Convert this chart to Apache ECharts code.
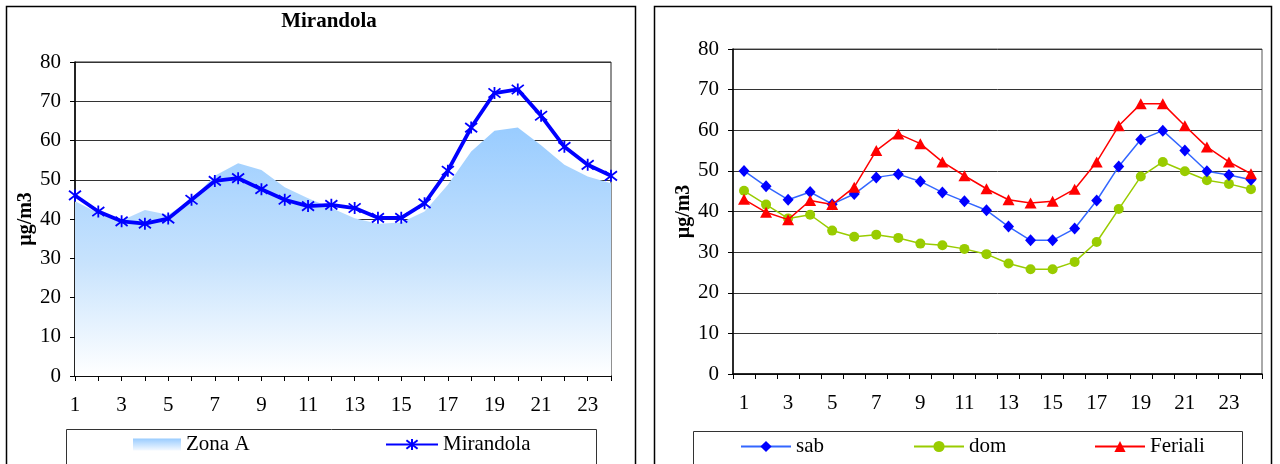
<!DOCTYPE html>
<html>
<head>
<meta charset="utf-8">
<script src="https://cdn.jsdelivr.net/npm/echarts@6/dist/echarts.min.js"></script>
<style>
html,body{margin:0;padding:0;background:#fff;}
#main{width:1280px;height:464px;}
</style>
</head>
<body>
<div id="main"></div>
<script>
const hours = ['1','2','3','4','5','6','7','8','9','10','11','12','13','14','15','16','17','18','19','20','21','22','23','24'];
const zonaA = [44.5, 41.5, 39.6, 42.3, 41.1, 45.0, 51.0, 54.2, 52.5, 48.1, 45.3, 42.8, 40.2, 38.8, 39.1, 41.9, 48.7, 57.2, 62.5, 63.3, 58.8, 53.8, 50.8, 49.1];
const mirandola = [46.0, 41.9, 39.4, 38.8, 40.1, 44.9, 49.7, 50.4, 47.6, 44.9, 43.3, 43.6, 42.8, 40.3, 40.3, 44.0, 52.3, 63.3, 72.1, 73.0, 66.3, 58.4, 53.8, 51.0];
const sab = [50.0, 46.2, 42.9, 44.8, 41.8, 44.3, 48.4, 49.2, 47.4, 44.7, 42.5, 40.3, 36.3, 32.9, 32.9, 35.8, 42.7, 51.1, 57.7, 59.9, 55.0, 49.9, 49.0, 47.8];
const dom = [45.1, 41.7, 38.3, 39.2, 35.3, 33.8, 34.3, 33.5, 32.1, 31.7, 30.8, 29.5, 27.2, 25.8, 25.8, 27.6, 32.5, 40.6, 48.6, 52.2, 49.9, 47.7, 46.8, 45.5];
const feriali = [43.0, 39.8, 38.0, 42.7, 41.7, 46.0, 55.0, 59.1, 56.7, 52.2, 48.8, 45.6, 42.9, 42.1, 42.5, 45.5, 52.2, 61.1, 66.5, 66.5, 61.1, 55.9, 52.2, 49.3];

const FONT = '"Liberation Serif", "Times New Roman", serif';
const chart = echarts.init(document.getElementById('main'), null, {renderer:'canvas'});

const areaGrad = new echarts.graphic.LinearGradient(0, 0, 0, 1, [
  {offset: 0, color: '#99CCFF'},
  {offset: 0.55, color: '#C8E3FD'},
  {offset: 1, color: '#FFFFFF'}
]);
const legendGrad = new echarts.graphic.LinearGradient(0, 0, 0, 1, [
  {offset: 0, color: '#99CCFF'},
  {offset: 1, color: '#F4F9FF'}
]);
const starPath = 'path://M0,0L20,20M20,0L0,20M10,-3L10,23';

function yAxis(gridIndex, nameGap) {
  return {
    type: 'value', gridIndex: gridIndex, min: 0, max: 80, interval: 10,
    name: 'µg/m3', nameLocation: 'middle', nameGap: nameGap, nameRotate: 90,
    nameTextStyle: {fontFamily: FONT, fontSize: 20, fontWeight: 'bold', color: '#000'},
    axisLine: {show: true, lineStyle: {color: '#000', width: 1.5}},
    axisTick: {show: true, length: 5, lineStyle: {color: '#000', width: 1}},
    axisLabel: {fontFamily: FONT, fontSize: 21, color: '#000', margin: 14},
    splitLine: {show: true, lineStyle: {color: '#333', width: 1}}
  };
}
function xAxis(gridIndex, boundaryGap) {
  return {
    type: 'category', gridIndex: gridIndex, data: hours, boundaryGap: boundaryGap,
    axisLine: {show: true, lineStyle: {color: '#000', width: 1.5}},
    axisTick: {show: true, interval: 0, length: 5, lineStyle: {color: '#000', width: 1}},
    axisLabel: {interval: 1, fontFamily: FONT, fontSize: 21, color: '#000', margin: 19},
    splitLine: {show: false}
  };
}

const legendText = {fontFamily: FONT, fontSize: 21, color: '#000'};

const option = {
  animation: false,
  backgroundColor: '#fff',
  grid: [
    {left: 75, top: 62, width: 536, height: 314, show: true, borderColor: '#222', borderWidth: 1, backgroundColor: 'transparent'},
    {left: 733, top: 49, width: 529, height: 325, show: true, borderColor: '#555', borderWidth: 1, backgroundColor: 'transparent'}
  ],
  xAxis: [xAxis(0, false), xAxis(1, true)],
  yAxis: [yAxis(0, 36), yAxis(1, 38)],
  legend: [
    {data: [{name: 'Zona A', icon: 'rect', itemStyle: {color: legendGrad}}], left: 133, top: 434, padding: 0,
     itemWidth: 48, itemHeight: 12, textStyle: legendText, selectedMode: false},
    {data: ['Mirandola'], left: 385, top: 434, padding: 0, itemWidth: 52, itemHeight: 14, textStyle: legendText, selectedMode: false},
    {data: ['sab'], left: 740, top: 436, padding: 0, itemWidth: 50, itemHeight: 14, textStyle: legendText, selectedMode: false},
    {data: ['dom'], left: 913, top: 436, padding: 0, itemWidth: 50, itemHeight: 14, textStyle: legendText, selectedMode: false},
    {data: ['Feriali'], left: 1094, top: 436, padding: 0, itemWidth: 50, itemHeight: 14, textStyle: legendText, selectedMode: false}
  ],
  graphic: [
    {type: 'rect', shape: {x: 6.5, y: 6.5, width: 629, height: 480}, style: {fill: 'none', stroke: '#000', lineWidth: 1.5}, silent: true},
    {type: 'rect', shape: {x: 654.5, y: 6.5, width: 617, height: 480}, style: {fill: 'none', stroke: '#000', lineWidth: 1.5}, silent: true},
    {type: 'rect', shape: {x: 66.5, y: 429.5, width: 530, height: 60}, style: {fill: 'none', stroke: '#333', lineWidth: 1}, silent: true},
    {type: 'rect', shape: {x: 693.5, y: 431.5, width: 549, height: 60}, style: {fill: 'none', stroke: '#333', lineWidth: 1}, silent: true},
    {type: 'text', x: 329, y: 11, style: {text: 'Mirandola', textAlign: 'center', textVerticalAlign: 'top', font: 'bold 21px "Liberation Serif"', fill: '#000'}, silent: true}
  ],
  series: [
    {name: 'Zona A', type: 'line', xAxisIndex: 0, yAxisIndex: 0, data: zonaA, symbol: 'none',
     lineStyle: {width: 0, color: '#99CCFF'}, itemStyle: {color: '#99CCFF'}, areaStyle: {color: areaGrad, opacity: 1}, z: 1},
    {name: 'Mirandola', type: 'line', xAxisIndex: 0, yAxisIndex: 0, data: mirandola,
     symbol: starPath, symbolSize: 12,
     lineStyle: {width: 3.8, color: '#0000FF'},
     itemStyle: {color: '#0000FF', borderColor: '#0000FF', borderWidth: 1.8}, z: 3},
    {name: 'sab', type: 'line', xAxisIndex: 1, yAxisIndex: 1, data: sab,
     symbol: 'diamond', symbolSize: [11, 12],
     lineStyle: {width: 1.5, color: '#3366FF'}, itemStyle: {color: '#0000FF'}, z: 3},
    {name: 'dom', type: 'line', xAxisIndex: 1, yAxisIndex: 1, data: dom,
     symbol: 'circle', symbolSize: 10,
     lineStyle: {width: 1.5, color: '#99CC00'}, itemStyle: {color: '#99CC00'}, z: 2},
    {name: 'Feriali', type: 'line', xAxisIndex: 1, yAxisIndex: 1, data: feriali,
     symbol: 'triangle', symbolSize: [12, 11],
     lineStyle: {width: 1.5, color: '#FF0000'}, itemStyle: {color: '#FF0000'}, z: 4}
  ]
};
chart.setOption(option);
</script>
</body>
</html>
